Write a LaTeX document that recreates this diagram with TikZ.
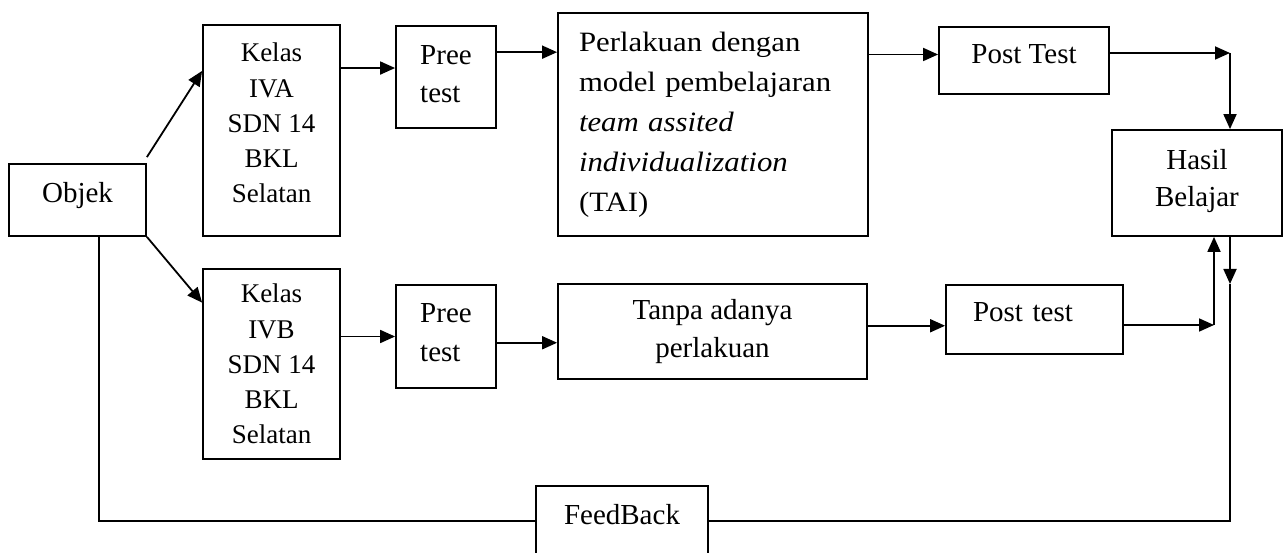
\documentclass[tikz,border=0pt]{standalone}
\usepackage{fontspec}
\setmainfont{Liberation Serif}
\newfontfamily\widerm[FakeStretch=1.1]{Liberation Serif}
\usetikzlibrary{arrows.meta,calc}

\begin{document}
\begin{tikzpicture}[x=1pt, y=-1pt,
  box/.style={draw, line width=1.8pt, align=center, inner sep=0pt, font=\fontsize{29}{37.5}\selectfont},
  kelas/.style={box, minimum width=137pt, font=\fontsize{27}{35.2}\selectfont},
  pree/.style={box, align=left, minimum width=100pt, minimum height=102pt, font=\fontsize{29}{38.6}\selectfont},
  arr/.style={-{Triangle[length=15pt,width=13pt]}, line width=1.8pt},
  link/.style={line width=1.8pt}
]
\useasboundingbox (0,0) rectangle (1287,553);

% boxes
\node[box, minimum width=137pt, minimum height=72pt, text depth=16pt] (obj) at (77.5,200) {Objek};
\node[kelas, minimum height=211pt, text depth=15pt] (kA) at (271.5,130.5) {Kelas\\IVA\\SDN 14\\BKL\\Selatan};
\node[pree, text depth=6pt] (pA) at (446,77) {Pree\\test};
\node[box, align=left, text width=268pt, inner xsep=21pt, minimum height=223pt, font=\widerm\fontsize{28}{40}\selectfont] (trt) at (713,124.5) {Perlakuan dengan\\model pembelajaran\\\textit{team assited}\\\textit{individualization}\\(TAI)};
\node[box, minimum width=170pt, minimum height=67pt, text depth=13pt] (postA) at (1024,60.5) {Post Test};
\node[box, minimum width=170pt, minimum height=106pt, text depth=10pt] (hasil) at (1197,183) {Hasil\\Belajar};
\node[kelas, minimum height=190pt] (kB) at (271.5,364) {Kelas\\IVB\\SDN 14\\BKL\\Selatan};
\node[pree, minimum height=103pt, text depth=8pt] (pB) at (446,336.5) {Pree\\test};
\node[box, minimum width=309pt, minimum height=95pt] (tanpa) at (712.5,331.5) {Tanpa adanya\\perlakuan};
\node[box, align=left, text width=123pt, inner xsep=27pt, minimum height=69pt, text depth=14pt] (postB) at (1034.5,319.5) {Post test};
\node[box, minimum width=172pt, minimum height=70pt, text depth=14pt] (fb) at (622,521) {FeedBack};

% bends near Hasil Belajar
\coordinate (c1) at (1230,53);
\coordinate (c2) at (1214,325);
\coordinate (c3) at (1230,284);

% upper row
\draw[arr] ([yshift=6pt]obj.north east) -- ($(kA.north west)!.22!(kA.south west)$);
\draw[arr] (kA.east |- pA.170) -- (pA.170);
\draw[arr] (pA.26) -- (trt.west |- pA.26);
\draw[arr] (trt.east |- postA.176) -- (postA.176);
\draw[arr] (postA.east |- c1) -- (c1);
\draw[arr] (c1) -- (c1 |- hasil.north);

% lower row
\draw[arr] (obj.south east) -- ($(kB.north west)!.18!(kB.south west)$);
\draw[arr] (kB.east |- pB.west) -- (pB.west);
\draw[arr] (pB.-7) -- (tanpa.west |- pB.-7);
\draw[arr] (tanpa.east |- postB.184) -- (postB.184);
\draw[arr] (postB.east |- c2) -- (c2);
\draw[arr] (c2) -- (c2 |- hasil.south);

% feedback loop
\draw[arr] (c3 |- hasil.south) -- (c3);
\draw[link] (c3) |- (fb.east);
\draw[link] (fb.west) -| ($(obj.south)+(21.5,0)$);
\end{tikzpicture}
\end{document}
